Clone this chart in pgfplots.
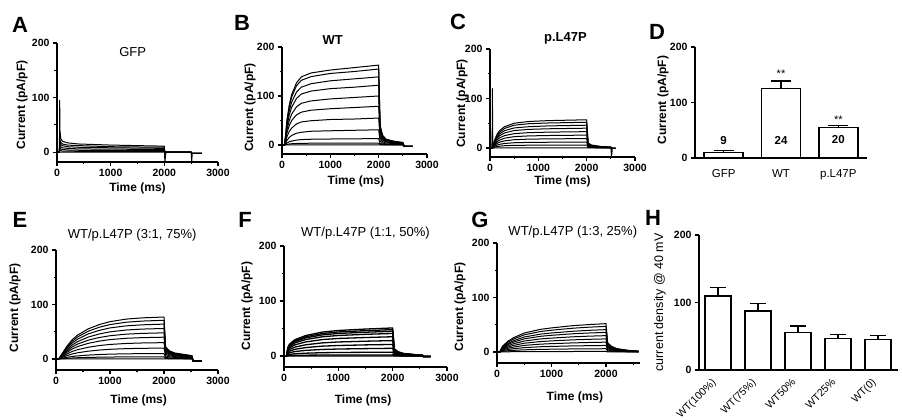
\documentclass[border=0pt]{standalone}
\usepackage{pgfplots}
\pgfplotsset{compat=1.18}
\usepackage{pgfplotstable}
\usepackage{fontspec}
\setmainfont{Liberation Sans}

\pgfplotstableread{
t a1 a2 a3 a4 a5 a6 a7
0 0 0 0 0 0 0 0
45 0 0 0 0 0 0 0
50 95 30 25 20 12 6 0
55 40 22 18 13 8 4 0
70 25 18 14 10 6 3 0
100 20 15 12 8 5 2 0
200 17 13 10 7 4 2 0
400 15 12 9 6 3.5 1.5 0
1000 13 10 8 5.5 3 1.5 0
2000 11 9 7 5 3 1.5 0
2010 -18 0 0 0 0 0 0
2030 0 0 0 0 0 0 0
2500 0 0 0 0 0 0 0
2510 -18 -2 -2 -2 -2 -2 -2
2520 -2 -2 -2 -2 -2 -2 -2
2700 -2 -2 -2 -2 -2 -2 -2
}\tabA

\pgfplotstableread{
t b1 b2 b3 b4 b5 b6 b7 b8 b9 b10 b11
0 0 0 0 0 0 0 0 0 0 0 0
50 0 0 0 0 0 0 0 0 0 0 0
80 24.5 23 21 18 15 12 8 4.5 2 0.6 0
100 49 46.5 42 36.5 30 24 16.5 9 4 1.2 0
150 81.5 77.5 69.5 61 50 39.5 27.5 15.5 6.5 2 0
200 103 98 87.5 77 63 50 34.5 19.5 8 2.5 0
300 127 121 108 95 78 61.5 43 24 10 3 0
400 139 132 118 104 85 67 47 26 11 3.4 0
600 147 139.5 125 110 90 71 49.5 28 11.7 3.6 0
1000 153 146 131 115 94 74 52 29 12.2 3.8 0
1500 158 150 135 118 97 76.5 53 30 12.6 3.9 0
2000 163 155 139 122 100 79 55 31 13 4 0
2030 40 38 34 30 24 19 14 8 3 1 0
2080 20 19 17 15 12 10 7 4 2 0.5 0
2150 12 11 10 9 7 6 4 2 1 0 0
2300 8 7.5 7 6 5 4 3 1.5 1 0 0
2500 5 5 4 4 3 2.5 2 1 0.5 0 0
2530 -3 -3 -3 -3 -3 -3 -3 -3 -3 -3 -3
2700 -3 -3 -3 -3 -3 -3 -3 -3 -3 -3 -3
}\tabB

\pgfplotstableread{
t c1 c2 c3 c4 c5 c6 c7 c8 c9 c10
0 0 0 0 0 0 0 0 0 0 0
45 0 0 0 0 0 0 0 0 0 0
50 120 40 25 0 0 0 0 0 0 0
55 0 0 0 0 0 0 0 0 0 0
80 8.5 7.8 6.9 6 5 3.9 2.9 1.8 0.9 0
100 17 15.6 13.8 12 10 7.8 5.7 3.6 1.8 0
150 28.5 26 23 20 16.5 13 9.5 6 3 0
200 35 32 28.5 24.8 20.5 16 11.8 7.4 3.7 0
300 43 39.5 35 30.4 25 19.8 14.4 9.1 4.6 0
500 50 46 40.5 35.2 29 22.9 16.7 10.6 5.3 0
800 53.5 49 43 37.6 31 24.4 17.9 11.3 5.6 0
1200 55.3 50.5 44.6 38.8 32 25.2 18.4 11.6 5.8 0
2000 57 52 46 40 33 26 19 12 6 0
2030 10 9 8 7 6 4.7 3.4 2.2 1 0
2100 6 5 4.6 4 3.3 2.6 1.9 1.2 0.6 0
2300 3 2.6 2.3 2 1.6 1.3 1 0.6 0.3 0
2500 2 1.6 1.4 1.2 1 0.8 0.6 0.4 0.2 0
2515 -18 0 0 0 0 0 0 0 0 0
2530 -1 -1 -1 -1 -1 -1 -1 -1 -1 -1
2600 -1 -1 -1 -1 -1 -1 -1 -1 -1 -1
}\tabC

\pgfplotstableread{
t e1 e2 e3 e4 e5 e6 e7 e8 e9 e10 e11
0 0 0 0 0 0 0 0 0 0 0 0
50 0 0 0 0 0 0 0 0 0 0 0
100 7.7 7.1 6.4 5.6 4.8 4 3 2 1 0.4 0
200 23.1 21.3 19.2 16.8 14.4 12 9 6 3 1.2 0
300 35.4 32.7 29.4 25.8 22.1 18.4 13.8 9.2 4.6 1.8 0
400 43.9 40.5 36.5 31.9 27.4 22.8 17.1 11.4 5.7 2.3 0
600 55.4 51.1 46.1 40.3 34.6 28.8 21.6 14.4 7.2 2.9 0
800 63.1 58.2 52.5 45.9 39.4 32.8 24.6 16.4 8.2 3.3 0
1000 68.5 63.2 57 49.8 42.7 35.6 26.7 17.8 8.9 3.6 0
1300 73.2 67.5 60.8 53.2 45.6 38 28.5 19 9.5 3.8 0
1600 75.5 69.6 62.7 54.9 47 39.2 29.4 19.6 9.8 3.9 0
2000 77 71 64 56 48 40 30 20 10 4 0
2030 22 20 18 16 13.7 11.4 8.6 5.7 2.9 1.1 0
2100 15 14 12.5 11 9.4 7.8 5.8 3.9 1.9 0.8 0
2200 11 10 9 8 6.9 5.7 4.3 2.9 1.4 0.6 0
2400 8 7.4 6.6 5.8 5 4.2 3.1 2.1 1 0.4 0
2520 6 5.5 5 4.4 3.7 3.1 2.3 1.6 0.8 0.3 0
2540 -4 -4 -4 -4 -4 -4 -4 -4 -4 -4 -4
2700 -4 -4 -4 -4 -4 -4 -4 -4 -4 -4 -4
}\tabE

\pgfplotstableread{
t f1 f2 f3 f4 f5 f6 f7 f8 f9 f10 f11
0 0 0 0 0 0 0 0 0 0 0 0
50 0 0 0 0 0 0 0 0 0 0 0
70 15.3 14.4 13.5 12.3 10.5 8.4 6.3 4.2 2.1 0.6 0
100 21.4 20.2 18.9 17.2 14.7 11.8 8.8 5.9 2.9 0.8 0
200 29.6 27.8 26.1 23.8 20.3 16.2 12.2 8.1 4.1 1.2 0
400 37.2 35 32.9 29.9 25.6 20.4 15.3 10.2 5.1 1.5 0
700 43.4 40.8 38.3 34.9 29.8 23.8 17.9 11.9 6 1.7 0
1000 46.4 43.7 41 37.3 31.9 25.5 19.1 12.7 6.4 1.8 0
1500 49 46.1 43.2 39.4 33.6 26.9 20.2 13.4 6.7 1.9 0
2000 51 48 45 41 35 28 21 14 7 2 0
2030 13 12 11 10 8.8 7 5.3 3.5 1.8 0.5 0
2100 7.7 7.2 6.8 6.2 5.3 4.2 3.2 2.1 1 0.3 0
2200 4.6 4.3 4 3.7 3.2 2.5 1.9 1.3 0.6 0.2 0
2400 2.6 2.4 2.3 2 1.8 1.4 1 0.7 0.4 0.1 0
2550 1.5 1.4 1.4 1.2 1 0.8 0.6 0.4 0.2 0.1 0
2560 -1 -1 -1 -1 -1 -1 -1 -1 -1 -1 -1
2700 -1 -1 -1 -1 -1 -1 -1 -1 -1 -1 -1
}\tabF

\pgfplotstableread{
t g1 g2 g3 g4 g5 g6 g7 g8 g9 g10 g11
0 0 0 0 0 0 0 0 0 0 0 0
50 0 0 0 0 0 0 0 0 0 0 0
100 10.4 9.4 8.2 7.2 6 4.8 3.6 2.4 1.2 0.2 0
200 19.8 17.9 15.6 13.7 11.4 9.1 6.8 4.6 2.3 0.4 0
300 26 23.5 20.5 18 15 12 9 6 3 0.5 0
500 34.8 31.5 27.5 24.1 20.1 16.1 12.1 8 4 0.7 0
800 41.6 37.6 32.8 28.8 24 19.2 14.4 9.6 4.8 0.8 0
1000 44.2 40 34.9 30.6 25.5 20.4 15.3 10.2 5.1 0.9 0
1400 48.4 43.7 38.1 33.5 27.9 22.3 16.7 11.2 5.6 0.9 0
1700 50.4 45.6 39.8 34.9 29.1 23.3 17.5 11.6 5.8 1 0
2000 52 47 41 36 30 24 18 12 6 1 0
2030 17 15.5 13.5 11.9 9.9 7.9 5.9 4 2 0.3 0
2100 10.4 9.4 8.2 7.2 6 4.8 3.6 2.4 1.2 0.2 0
2200 6.2 5.6 4.9 4.3 3.6 2.9 2.2 1.4 0.7 0.1 0
2400 3.1 2.8 2.5 2.2 1.8 1.4 1.1 0.7 0.4 0.1 0
2600 1.6 1.4 1.2 1.1 0.9 0.7 0.5 0.4 0.2 0 0
}\tabG

\pgfplotsset{
  base/.style={scale only axis, anchor=south west, axis lines=left,
    axis line style={-, line width=1.3pt},
    tick style={line width=1.1pt, black}, tick align=outside,
    major tick length=4pt, minor tick length=2.5pt,
    /pgf/number format/assume math mode=true,
    /pgf/number format/1000 sep={},
    scaled ticks=false,
    tick label style={font=\bfseries\fontsize{10.5}{11}\selectfont},
    label style={font=\bfseries\fontsize{12}{13}\selectfont}},
  trace/.style={base, xmin=0, xmax=3000, ymax=200,
    xtick={0,1000,2000,3000}, minor xtick={500,1500,2500},
    ytick={0,100,200}, minor ytick={50,150},
    xlabel={Time (ms)}, ylabel={Current (pA/pF)}},
  ylpos/.style 2 args={ylabel style={at={(axis description cs:#1,#2)}, anchor=center}},
  xlpos/.style 2 args={xlabel style={at={(axis description cs:#1,#2)}, anchor=center}},
  tlpos/.style 2 args={title style={at={(axis description cs:#1,#2)}, anchor=center, yshift=-6pt}},
  tr/.style={black, line width=1pt, no markers, line join=round},
  bars/.style={fill=white, draw=black, line width=1.4pt,
    error bars/.cd, y dir=plus, y explicit,
    error bar style={line width=1.4pt, black},
    error mark options={rotate=90, line width=1.4pt, black, mark size=#1}},
}

\newcommand{\ttl}{\mdseries\fontsize{13}{14}\selectfont}
\newcommand{\ttlb}{\bfseries\fontsize{13}{14}\selectfont}

\begin{document}
\begin{tikzpicture}
\path[use as bounding box] (0,0) rectangle (902pt,420pt);

% Panel letters
\begin{scope}[every node/.style={font=\bfseries\fontsize{22}{22}\selectfont, inner sep=0pt}]
\node at (20pt,395pt) {A};
\node at (242pt,397pt) {B};
\node at (458pt,398pt) {C};
\node at (657pt,388pt) {D};
\node at (20pt,200pt) {E};
\node at (245pt,200pt) {F};
\node at (480pt,200pt) {G};
\node at (653pt,202pt) {H};
\end{scope}

% A
\begin{axis}[trace, at={(57pt,258pt)}, width=161pt, height=119pt, ymin=-18,
  ylpos={-0.217}{0.48}, xlpos={0.50}{-0.218},
  title={GFP}, title style={font=\ttl}, tlpos={0.47}{0.924}]
\pgfplotsinvokeforeach{1,...,7}{\addplot[tr] table[x=t,y=a#1]{\tabA};}
\end{axis}

% B
\begin{axis}[trace, at={(282pt,266pt)}, width=145pt, height=107pt, ymin=-18.4,
  ylpos={-0.22}{0.435}, xlpos={0.51}{-0.26},
  title={WT}, title style={font=\ttlb}, tlpos={0.35}{1.065}]
\pgfplotsinvokeforeach{1,...,11}{\addplot[tr] table[x=t,y=b#1]{\tabB};}
\end{axis}

% C
\begin{axis}[trace, at={(490pt,263pt)}, width=145pt, height=108pt, ymin=-18.2,
  ylpos={-0.193}{0.495}, xlpos={0.5}{-0.23},
  title={p.L47P}, title style={font=\ttlb}, tlpos={0.52}{1.10}]
\pgfplotsinvokeforeach{1,...,10}{\addplot[tr] table[x=t,y=c#1]{\tabC};}
\end{axis}

% D
\begin{axis}[base, at={(695pt,262pt)}, width=172pt, height=111pt,
  xmin=0, xmax=3, ymin=0, ymax=200, ytick={0,100,200},
  xtick={0.5,1.5,2.5}, xticklabels={GFP,WT,p.L47P},
  xticklabel style={font=\mdseries\fontsize{11.5}{12}\selectfont, yshift=-4pt},
  xtick style={draw=none},
  ylabel={Current (pA/pF)}, ylpos={-0.186}{0.52},
  ybar, bar width=39pt]
\addplot[bars=10pt] coordinates {(0.5,10.1) +- (0,3.6) (1.5,125) +- (0,13.7) (2.5,54.8) +- (0,3.5)};
\node[font=\bfseries\fontsize{11.5}{12}\selectfont] at (axis cs:0.5,30.6) {9};
\node[font=\bfseries\fontsize{11.5}{12}\selectfont] at (axis cs:1.5,32.4) {24};
\node[font=\bfseries\fontsize{11.5}{12}\selectfont] at (axis cs:2.5,32.4) {20};
\node[font=\mdseries\fontsize{11}{12}\selectfont] at (axis cs:1.5,151) {**};
\node[font=\mdseries\fontsize{11}{12}\selectfont] at (axis cs:2.5,68.5) {**};
\end{axis}

% E
\begin{axis}[trace, at={(56pt,50pt)}, width=162pt, height=120pt, ymin=-20.2,
  ylpos={-0.253}{0.517}, xlpos={0.51}{-0.25},
  title={WT/p.L47P (3:1, 75\%)}, title style={font=\ttl}, tlpos={0.47}{1.125}]
\pgfplotsinvokeforeach{1,...,11}{\addplot[tr] table[x=t,y=e#1]{\tabE};}
\end{axis}

% F
\begin{axis}[trace, at={(284pt,53pt)}, width=163pt, height=121pt, ymin=-20,
  ylpos={-0.227}{0.504}, xlpos={0.485}{-0.273},
  title={WT/p.L47P (1:1, 50\%)}, title style={font=\ttl}, tlpos={0.50}{1.107}]
\pgfplotsinvokeforeach{1,...,11}{\addplot[tr, line width=1.3pt] table[x=t,y=f#1]{\tabF};}
\end{axis}

% G
\begin{axis}[trace, at={(497pt,57pt)}, width=143pt, height=120pt, ymin=-20.2,
  xmax=2624, xtick={0,1000,2000},
  ylpos={-0.259}{0.467}, xlpos={0.545}{-0.29},
  title={WT/p.L47P (1:3, 25\%)}, title style={font=\ttl}, tlpos={0.53}{1.09}]
\pgfplotsinvokeforeach{1,...,11}{\addplot[tr] table[x=t,y=g#1]{\tabG};}
\end{axis}

% H
\begin{axis}[base, at={(699pt,50pt)}, width=199pt, height=135pt,
  xmin=-0.475, xmax=4.5, ymin=0, ymax=200, ytick={0,100,200},
  xtick={0,1,2,3,4},
  xticklabels={WT(100\%),WT(75\%),WT50\%,WT25\%,WT(0)},
  xticklabel style={xshift=-7pt, yshift=-2pt, font=\mdseries\fontsize{10.5}{11}\selectfont, rotate=45, anchor=north east, inner sep=1pt},
  xtick style={draw=none},
  ylabel={current density @ 40 mV},
  ylabel style={font=\mdseries\fontsize{12.5}{13}\selectfont},
  ylpos={-0.196}{0.5},
  ybar, bar width=26pt]
\addplot[bars=8pt] coordinates {(0,109.4) +- (0,12.8) (1,87.2) +- (0,11.3) (2,55.2) +- (0,9.8) (3,46.8) +- (0,5.9) (4,45.3) +- (0,5.9)};
\end{axis}
\end{tikzpicture}
\end{document}
